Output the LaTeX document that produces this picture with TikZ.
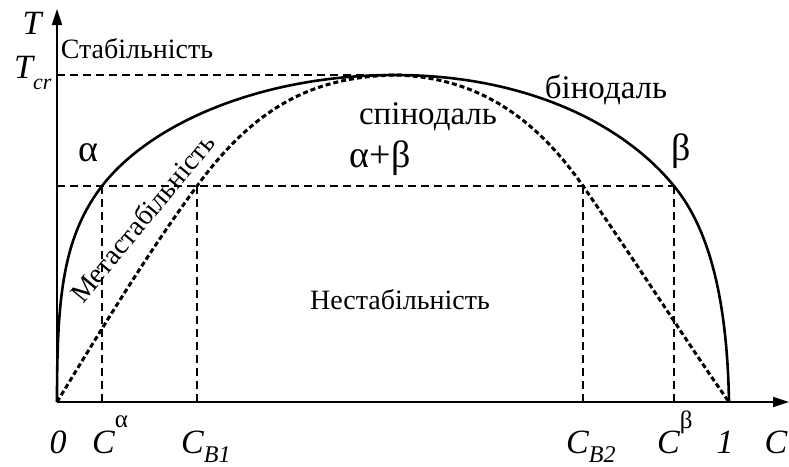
\documentclass[tikz,border=0pt]{standalone}
\usepackage{fontspec}
\setmainfont{Liberation Serif}
\usetikzlibrary{arrows.meta}
\begin{document}
\begin{tikzpicture}[x=1pt,y=-1pt,
  axis/.style={line width=2pt,-{Triangle[length=16pt,width=10pt]}},
  guide/.style={line width=1.3pt,dash pattern=on 8pt off 5pt},
  binodal/.style={line width=2.6pt},
  spinodal/.style={line width=3pt,dash pattern=on 5pt off 3pt},
  lbl/.style={inner sep=0pt,font=\fontsize{28}{28}\selectfont},
  big/.style={inner sep=0pt,font=\fontsize{33}{33}\selectfont},
  greek/.style={inner sep=0pt,font=\fontsize{38}{38}\selectfont},
  axl/.style={inner sep=0pt,font=\fontsize{34}{34}\selectfont\itshape}]
\useasboundingbox (0,0) rectangle (789,466);
% key points
\coordinate (O) at (57,402);
\coordinate (Ytip) at (57,9);
\coordinate (Xtip) at (789,402);
\coordinate (P) at (395,75);
\coordinate (Tc) at (57,75);
\coordinate (Tl) at (57,186);
\coordinate (Aa) at (102,186);
\coordinate (B1) at (197,186);
\coordinate (B2) at (583,186);
\coordinate (Bb) at (674,186);
\coordinate (Aa0) at (102,402);
\coordinate (B10) at (197,402);
\coordinate (B20) at (583,402);
\coordinate (Bb0) at (674,402);
\coordinate (E) at (729,402);
% guides
\draw[guide] (Tc) -- (P);
\draw[guide] (Tl) -- (Bb);
\draw[guide] (Aa) -- (Aa0);
\draw[guide] (B1) -- (B10);
\draw[guide] (B2) -- (B20);
\draw[guide] (Bb) -- (Bb0);
% binodal
\draw[binodal] (O) .. controls (57,300) and (62,238) .. (Aa)
  .. controls (150,124) and (260,75) .. (P)
  .. controls (520,75) and (620,120) .. (Bb)
  .. controls (706,225) and (727,290) .. (E);
% spinodal
\draw[spinodal] (O) .. controls (110,315) and (150,250) .. (B1)
  .. controls (260,100) and (320,77) .. (P)
  .. controls (470,77) and (530,110) .. (B2)
  .. controls (640,268) and (692,350) .. (E);
% axes
\draw[axis] (O) -- (Ytip);
\draw[axis] (O) -- (Xtip);
% labels
\node[axl] (lT) at (32,23) {T};
\node[axl,anchor=base west] (lTcr) at (14,78) {T\raisebox{-0.35em}{\fontsize{22}{22}\selectfont\itshape cr}};
\node[lbl] (lstab) at (137,49) {Стабільність};
\node[greek] (lal) at (88,153) {α};
\node[big] (lbin) at (606,90) {бінодаль};
\node[big] (lspin) at (428,117) {спінодаль};
\node[greek] (lab) at (380,158) {α+β};
\node[greek] (lbe) at (681,151) {β};
\node[lbl,rotate=50.3] (lmeta) at (142,218) {Метастабільність};
\node[lbl] (lnest) at (400,300) {Нестабільність};
\node[axl,anchor=base] (l0) at (58,453) {0};
\node[axl,anchor=base west] (lCa) at (92,453) {C\raisebox{0.76em}{\fontsize{25}{25}\selectfont\upshape α}};
\node[axl,anchor=base west] (lCB1) at (181,453) {C\raisebox{-0.27em}{\fontsize{24}{24}\selectfont\itshape B1}};
\node[axl,anchor=base west] (lCB2) at (566,453) {C\raisebox{-0.27em}{\fontsize{24}{24}\selectfont\itshape B2}};
\node[axl,anchor=base west] (lCb) at (657,453) {C\raisebox{0.72em}{\fontsize{25}{25}\selectfont\upshape β}};
\node[axl,anchor=base] (l1) at (725,453) {1};
\node[axl,anchor=base] (lC) at (776,453) {C};
\end{tikzpicture}
\end{document}
